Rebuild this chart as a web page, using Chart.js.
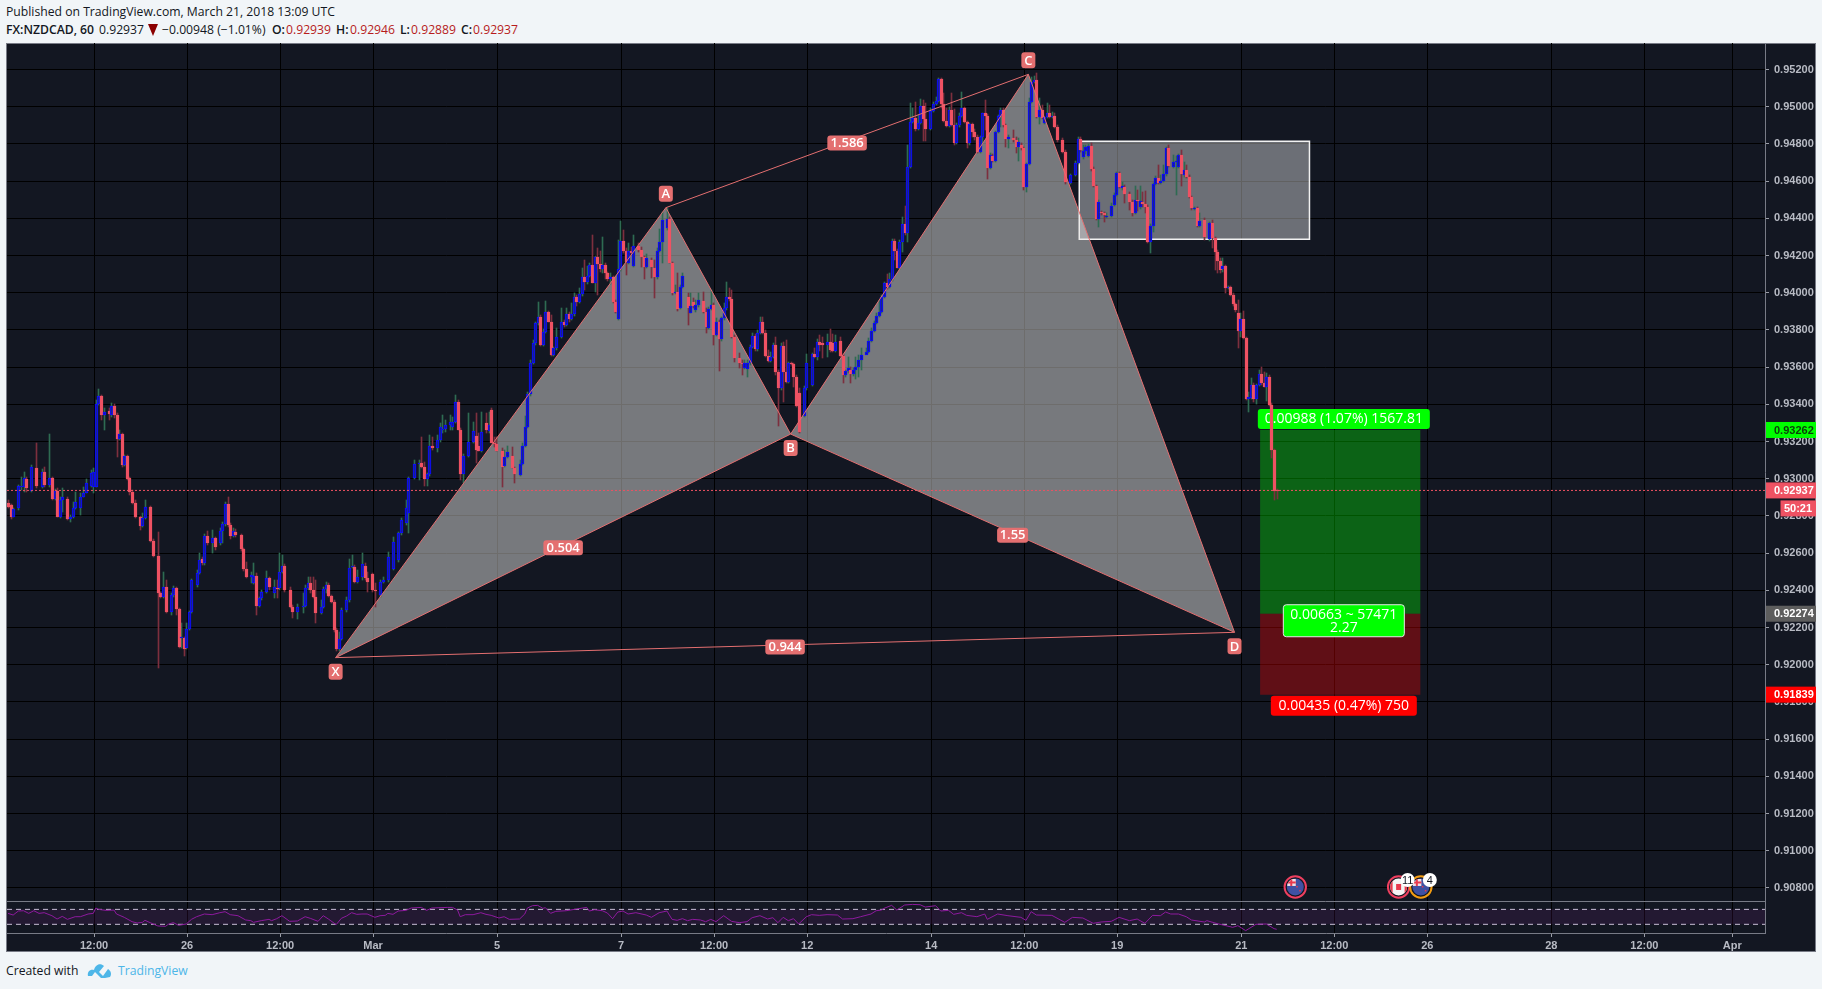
<!DOCTYPE html>
<html>
<head>
<meta charset="utf-8">
<title>FX:NZDCAD, 60</title>
<script src="https://cdn.jsdelivr.net/npm/chart.js@4"></script>
<style>
    html, body { margin: 0; padding: 0; background: #f1f5f8; overflow: hidden; }
    body { width: 1822px; height: 989px; position: relative; font-family: 'Open Sans', sans-serif; font-size: 12.2px; color: #131722; }
    .txt { position: absolute; white-space: nowrap; line-height: 18px; height: 18px; }
    .bold { font-weight: 600; }
    .red { color: #b71c1c; }
    #frame { position: absolute; left: 6px; top: 43px; width: 1810px; height: 909px; box-sizing: border-box; background: #131722; border: 1px solid #787b86; }
    canvas { position: absolute; left: 0; }
    #mainChart { top: 0; }
    #rsiChart { top: 901px; }
    #tri { position: absolute; left: 148px; top: 24px; width: 0; height: 0; border-left: 5.5px solid transparent; border-right: 5.5px solid transparent; border-top: 12px solid #8b0000; }
</style>
</head>
<body>
<div class="txt" style="left:6px;top:3px">Published on TradingView.com, March 21, 2018 13:09 UTC</div>
<div class="txt bold" style="left:6px;top:21px">FX:NZDCAD, 60</div>
<div class="txt" style="left:99px;top:21px">0.92937</div>
<div id="tri"></div>
<div class="txt" style="left:162px;top:21px">−0.00948 (−1.01%)</div>
<div class="txt bold" style="left:272px;top:21px">O:</div>
<div class="txt red" style="left:286px;top:21px">0.92939</div>
<div class="txt bold" style="left:336px;top:21px">H:</div>
<div class="txt red" style="left:350px;top:21px">0.92946</div>
<div class="txt bold" style="left:400px;top:21px">L:</div>
<div class="txt red" style="left:411px;top:21px">0.92889</div>
<div class="txt bold" style="left:461px;top:21px">C:</div>
<div class="txt red" style="left:473px;top:21px">0.92937</div>
<div id="frame"></div>
<canvas id="mainChart" width="1816" height="901"></canvas>
<canvas id="rsiChart" width="1816" height="52"></canvas>
<div class="txt" style="left:6px;top:962px">Created with</div>
<svg style="position:absolute;left:87px;top:961px" width="25" height="18" viewBox="0 0 25 18">
    <path d="M1 15 C0 11 3 8 7 9 C8 4 13 1 17 5 L12 11 L16 15 L21 8 C24 10 25 13 23 16 L18 17 L14 17 L8 11 L5 15 Z" fill="#4db6e8"/>
</svg>
<div class="txt" style="left:118px;top:962px;color:#4db6e8">TradingView</div>
<script>
// hour of each traced candle, counted from the left edge of the chart
const barHours = [
    0,1,2,4,5,6,7,9,11,13, 14,16,17,18,19,20,21,23,24,25, 26,28,29,30,32,33,34,35,36,37, 39,40,41,42,43,44,45,46,47,48,
    49,51,52,53,55,56,58,59,60,61, 63,64,65,66,67,68,69,70,71,73, 74,75,76,77,79,80,82,83,84,85, 86,87,88,90,91,92,94,95,96,97,
    98,100,101,103,104,105,106,107,109,110, 112,114,115,116,117,118,119,121,122,123, 124,125,126,127,128,129,131,132,133,134,
    135,137,138,139,141,142,144,145,147,149, 151,152,154,155,157,159,160,161,162,163, 164,166,167,168,169,171,172,173,174,175,
    176,178,180,181,182,183,185,186,187,188, 189,191,192,193,195,196,198,199,200,201, 202,203,204,205,206,207,208,209,210,211,
    212,214,215,216,217,218,219,220,221,222, 223,224,225,226,227,228,229,230,231,232, 233,234,235,236,237,238,239,240,241,242,
    244,245,246,247,249,250,251,252,253,255, 256,257,258,259,260,261,263,264,265,266, 267,269,270,271,272,273,274,275,276,277,
    278,279,280,281,283,284,285,286,287,288, 289,290,291,292,293,294,295,296,297,298, 299,300,301,302,303,304,305,306,308,309,
    311,312,313,314,315,317,318,319,320,322, 323,324,325,326,327,328,329,330,332,333, 334,335,336,337,338,339,340,341,342,343,
    344,345,346,347,348,349,350,351,352,353, 354,355,357,358,359,360,361,362,363,364, 365,366,367,368,369,370,371,372,373,374,
    375,376,377,378,379,380,381,382,383,384, 385,386,387,389,390,391,392,393,394,395, 396,397,398,399,400,401,402,403,404,405,
    406,408,409,411,413,414,415,416,417,418, 419,420,421,422,423,424,425,427,428,429, 430,431,432,434,435,436,437,438,439,440,
    441,442,443,444,445,446,447,448,449,451, 452,453,454,455,456,457,458,459,460,461, 463,465,466,467,468,469,470,471,472,473,
    474,475,476,477,478,479,480,481,482,483, 484,485,486,487,488,489,490,491];

// prices in points (0.00001)
const opens = [
    92872,92857,92796,92841,92954,92954,92999,92936,93056,92954, 93038,92967,93002,92893,92936,92793,92886,92890,92782,92796,
    92845,92841,92904,92925,92961,92958,92958,93402,93445,93343, 93366,93343,93393,93343,93212,93239,93074,93121,93002,92931,
    92872,92793,92748,92787,92846,92667,92587,92384,92363,92420, 92286,92375,92411,92298,92142,92142,92089,92191,92282,92429,
    92495,92569,92545,92694,92653,92680,92653,92721,92755,92864, 92751,92694,92716,92698,92621,92513,92474,92441,92479,92318,
    92357,92393,92465,92384,92411,92411,92497,92531,92402,92312, 92282,92312,92316,92411,92438,92402,92366,92277,92312,92406,
    92429,92370,92339,92187,92083,92137,92295,92348,92527,92527, 92447,92474,92531,92465,92486,92402,92375,92447,92456,92517,
    92563,92707,92760,92814,93002,93078,93087,93065,92997,93024, 93176,93164,93208,93262,93268,93289,93280,93307,93411,93262,
    93026,93122,93199,93230,93176,93151,93302,93259,93370,93191, 93187,93151,93069,93115,93122,93056,93020,93078,93176,93277,
    93454,93624,93728,93835,93868,93719,93791,93895,93841,93665, 93701,93764,93844,93826,93884,93857,93884,93975,93952,93991,
    94083,94059,94092,94149,94054,94190,94154,94126,94149,94104, 94072,94083,93948,93857,94126,94280,94224,94162,94224,94145,
    94251,94230,94190,94140,94176,94131,94083,94226,94271,94346, 94395,94158,93997,94006,93916,94033,93979,93893,93952,93907,
    93932,93957,93898,93812,93911,93932,93773,93841,93749,93862, 93916,93979,93964,93764,93651,93624,93597,93588,93620,93710,
    93767,93696,93785,93844,93785,93662,93635,93656,93719,93576, 93486,93715,93576,93522,93620,93617,93549,93459,93337,93486,
    93504,93671,93656,93737,93728,93719,93737,93728,93689,93740, 93662,93558,93579,93585,93561,93585,93599,93637,93665,93683,
    93742,93796,93839,93875,93898,93975,94054,94029,94072,94278, 94226,94131,94271,94369,94319,94674,94920,94941,94879,94911,
    95004,94932,94880,94979,95015,95033,95147,95013,94925,94896, 94982,94902,94803,94900,94950,94991,94920,94803,94907,94866,
    94835,94758,94835,94965,94952,94669,94735,94710,94862,94950, 94982,94902,94825,94830,94821,94785,94794,94776,94567,94690,
    95024,95135,95144,94943,94982,94914,94943,94965,94947,94950, 94893,94821,94758,94592,94633,94699,94825,94728,94762,94735,
    94789,94663,94574,94396,94432,94427,94409,94414,94472,94526, 94642,94561,94570,94531,94490,94431,94499,94459,94490,94477,
    94463,94275,94361,94583,94615,94588,94601,94637,94776,94678, 94703,94678,94739,94633,94660,94624,94513,94454,94454,94361,
    94391,94287,94373,94293,94221,94172,94126,94144,94024,94029, 93988,93938,93890,93796,93857,93755,93427,93433,93504,93427,
    93504,93563,93513,93495,93546,93397,93155,92939];

const closes = [
    92850,92796,92837,92961,92961,93006,92949,93062,92961,93038, 92967,93002,92893,92936,92793,92886,92904,92782,92796,92845,
    92877,92904,92925,92975,93033,93038,93402,93445,93343,93361, 93346,93393,93343,93212,93239,93074,93121,92999,92931,92872,
    92793,92748,92787,92846,92667,92587,92384,92363,92420,92286, 92375,92411,92298,92094,92147,92087,92191,92282,92454,92495,
    92563,92545,92694,92653,92680,92635,92721,92755,92864,92751, 92694,92719,92698,92621,92513,92474,92481,92479,92318,92357,
    92393,92465,92420,92416,92407,92497,92531,92402,92312,92282, 92312,92316,92411,92438,92402,92366,92277,92312,92406,92429,
    92370,92339,92187,92083,92137,92295,92348,92522,92531,92447, 92474,92540,92465,92447,92402,92398,92447,92456,92581,92662,
    92707,92778,92841,93002,93078,93087,93065,92997,93024,93176, 93164,93208,93277,93268,93289,93307,93307,93411,93262,93026,
    93122,93199,93259,93155,93151,93253,93262,93289,93191,93187, 93151,93062,93115,93146,93056,93026,93078,93176,93277,93456,
    93624,93728,93835,93868,93719,93791,93898,93841,93665,93701, 93764,93844,93826,93884,93857,93884,93975,93952,93991,94083,
    94059,94092,94149,94054,94190,94154,94126,94149,94104,94072, 94083,93948,93898,94126,94280,94224,94167,94224,94215,94251,
    94230,94190,94140,94185,94137,94083,94226,94271,94391,94395, 94158,93997,94006,93911,94033,94090,93916,93929,93929,93932,
    93961,93898,93818,93911,93932,93773,93841,93749,93862,93916, 93979,93964,93764,93651,93624,93617,93620,93620,93710,93767,
    93696,93785,93844,93785,93662,93635,93656,93719,93576,93486, 93715,93576,93522,93620,93617,93549,93393,93253,93486,93620,
    93671,93656,93737,93719,93719,93737,93692,93689,93733,93662, 93558,93579,93594,93561,93585,93599,93637,93665,93683,93742,
    93796,93839,93875,93898,93975,94054,94029,94072,94278,94226, 94131,94271,94369,94319,94674,94920,94941,94879,94911,95004,
    94932,94880,94979,95015,95033,95147,95013,94925,94896,94982, 94902,94803,94900,94950,94991,94920,94803,94907,94866,94835,
    94758,94835,94965,94952,94669,94739,94710,94862,94950,94982, 94902,94825,94836,94821,94785,94810,94776,94567,94690,95024,
    95135,95144,94943,94982,94938,94943,94965,94947,94950,94893, 94821,94758,94597,94633,94699,94825,94767,94762,94785,94789,
    94663,94574,94396,94490,94427,94418,94414,94468,94526,94642, 94570,94574,94531,94490,94427,94499,94495,94495,94477,94463,
    94275,94361,94583,94615,94588,94601,94637,94776,94681,94705, 94706,94739,94638,94660,94624,94513,94454,94457,94361,94388,
    94302,94373,94293,94221,94172,94122,94144,94024,94029,93988, 93938,93907,93796,93857,93755,93427,93438,93504,93427,93504,
    93563,93513,93495,93546,93397,93155,92934,92937];

const highs = [
    92886,92864,92841,92966,93011,93038,93011,93074,93191,93051, 93062,93241,93011,92945,92949,92904,92949,92900,92805,92877,
    92931,92925,92958,92997,93047,93056,93424,93481,93450,93379, 93379,93406,93402,93352,93262,93244,93128,93128,93008,92940,
    92886,92800,92814,92886,92854,92674,92716,92391,92501,92456, 92384,92424,92420,92303,92223,92151,92223,92289,92459,92510,
    92599,92581,92703,92721,92725,92689,92734,92769,92877,92904, 92760,92734,92728,92703,92626,92554,92501,92549,92491,92366,
    92402,92506,92474,92456,92456,92603,92590,92542,92420,92321, 92327,92384,92429,92470,92474,92474,92456,92348,92420,92447,
    92438,92375,92348,92196,92178,92303,92366,92567,92590,92536, 92510,92599,92545,92501,92492,92438,92456,92474,92608,92689,
    92716,92787,92886,93011,93101,93101,93223,93092,93033,93235, 93226,93235,93302,93343,93316,93343,93334,93450,93424,93271,
    93133,93352,93307,93352,93244,93361,93352,93361,93379,93226, 93226,93164,93155,93176,93173,93062,93101,93191,93338,93468,
    93638,93746,93844,93952,93880,93803,93955,93902,93880,93710, 93808,93916,93853,93916,93898,93943,93997,93988,94024,94131,
    94176,94144,94158,94310,94197,94239,94226,94301,94158,94111, 94104,94090,93961,94283,94387,94337,94239,94265,94248,94310,
    94265,94248,94197,94208,94185,94176,94239,94341,94436,94454, 94409,94167,94042,94108,94042,94104,94000,93997,93970,93961,
    94000,94006,93916,93925,94015,93943,93862,93853,93871,93943, 94059,94024,94015,93773,93674,93638,93638,93638,93719,93785,
    93778,93800,93868,93868,93800,93692,93683,93728,93764,93585, 93728,93737,93746,93629,93628,93624,93558,93486,93498,93671,
    93678,93701,93749,93773,93764,93778,93803,93778,93773,93764, 93671,93585,93656,93599,93594,93656,93665,93701,93701,93755,
    93808,93850,93889,93961,93988,94059,94101,94104,94287,94287, 94233,94283,94409,94466,94794,95018,94991,95027,94955,95040,
    95036,95018,94991,95027,95054,95153,95153,95072,94991,94997, 95072,94986,94911,94964,95081,94997,94925,94914,94914,94879,
    94848,94843,94968,95036,94961,94749,94746,94871,94955,94991, 94991,94907,94848,94875,94835,94830,94803,94785,94699,95045,
    95162,95165,95180,95045,95009,94947,95018,95009,94973,94965, 94902,94830,94767,94638,94710,94836,94839,94794,94794,94800,
    94803,94674,94579,94499,94441,94436,94427,94481,94535,94651, 94649,94597,94579,94543,94499,94574,94552,94574,94543,94549,
    94472,94370,94592,94628,94687,94633,94687,94785,94794,94740, 94735,94746,94767,94705,94687,94633,94520,94463,94463,94430,
    94400,94382,94391,94302,94230,94185,94185,94149,94036,94036, 93997,93947,93961,93890,93899,93761,93468,93540,93513,93510,
    93585,93599,93576,93567,93558,93406,93158,92946];

const lows = [
    92841,92786,92793,92832,92940,92931,92931,92931,92949,92949, 92958,92958,92886,92886,92793,92787,92823,92778,92769,92787,
    92836,92805,92900,92922,92958,92922,92954,93397,93316,93262, 93316,93334,93325,93119,93208,93065,93069,92993,92913,92864,
    92787,92725,92743,92782,92662,92581,91981,92357,92357,92277, 92268,92366,92268,92089,92089,92049,92083,92187,92277,92420,
    92488,92535,92537,92644,92599,92617,92644,92653,92746,92743, 92675,92685,92689,92613,92506,92468,92438,92434,92268,92312,
    92348,92384,92402,92357,92357,92402,92492,92393,92303,92250, 92244,92277,92309,92402,92384,92357,92226,92271,92303,92384,
    92366,92334,92178,92076,92071,92133,92286,92339,92518,92438, 92438,92456,92456,92393,92393,92312,92366,92438,92447,92510,
    92554,92698,92751,92707,92997,92993,93056,92961,92961,93015, 93155,93146,93199,93244,93253,93262,93262,93298,93262,92993,
    92976,93115,93190,93087,93151,93146,93244,93244,93191,93173, 93151,92954,93062,93110,93056,92976,93015,93072,93173,93271,
    93445,93617,93719,93826,93715,93715,93785,93841,93660,93660, 93692,93755,93818,93821,93844,93853,93875,93929,93947,93982,
    94015,94047,94086,94051,94006,93988,94113,94104,94072,94065, 94047,93943,93893,93853,94119,94215,94095,94154,94205,94140,
    94221,94140,94076,94131,94077,93970,94076,94221,94162,94337, 94158,93988,93993,93903,93911,94024,93826,93889,93918,93898,
    93925,93893,93785,93805,93907,93719,93767,93581,93742,93853, 93907,93957,93755,93629,93594,93558,93588,93549,93611,93701,
    93688,93688,93778,93778,93656,93628,93629,93647,93558,93284, 93477,93414,93513,93513,93610,93495,93387,93244,93330,93477,
    93499,93647,93638,93689,93647,93656,93683,93681,93683,93656, 93513,93549,93567,93516,93552,93534,93545,93585,93674,93678,
    93737,93791,93832,93868,93893,93970,94018,94024,94065,94176, 94131,94126,94221,94310,94275,94669,94911,94871,94875,94907,
    94817,94817,94875,94973,95009,95027,94991,94920,94889,94889, 94896,94794,94798,94893,94947,94914,94776,94794,94839,94821,
    94749,94749,94803,94875,94610,94663,94705,94705,94857,94889, 94889,94782,94776,94812,94749,94710,94767,94552,94543,94687,
    95018,95126,94938,94907,94932,94907,94938,94938,94940,94884, 94812,94753,94585,94585,94628,94692,94758,94717,94746,94728,
    94656,94567,94391,94355,94418,94382,94400,94409,94466,94520, 94561,94552,94481,94445,94414,94423,94441,94448,94463,94427,
    94269,94215,94328,94577,94583,94585,94597,94628,94674,94669, 94525,94669,94574,94624,94615,94508,94445,94445,94355,94355,
    94284,94280,94239,94122,94104,94108,94113,93997,94018,93983, 93929,93898,93701,93764,93750,93424,93361,93427,93415,93402,
    93499,93504,93492,93420,93391,93110,92886,92889];

// RSI readings, sampled at the turning points of the line
const rsiHours = [
    0,2,4,6,8,10,12,14,17,19,21,23,26,28,31,33,34,35,38,41,42,45,48,50,52,53,55,58,61,62,64,66,69,71,73,76,79,82,84,86,89,92,94,95,98,101,102,104,106,109,
    112,115,117,120,122,124,127,129,131,133,135,137,139,142,144,146,147,149,151,154,156,160,162,164,170,172,174,175,177,180,183,185,187,190,192,194,198,200,201,203,
    205,207,208,210,212,216,220,224,225,227,230,232,234,236,238,240,243,247,249,252,255,257,259,261,263,265,268,270,272,274,277,280,283,286,288,291,294,296,298,300,
    302,304,306,309,311,314,317,321,323,327,330,334,336,338,339,342,344,347,350,353,355,359,361,364,366,369,371,375,378,379,383,387,392,394,396,398,404,409,412,416,
    420,423,427,430,434,437,440,443,446,448,450,453,456,458,463,464,468,474,476,479,483,487,490,491];
const rsiValues = [
    59.3,54.9,65.6,66.4,59.3,66.4,59.3,61.1,53.1,44.2,51.3,43.3,50.4,50.4,57.6,59.3,73.6,70,67.3,68.2,57.6,48.7,37.1,33.6,35.3,40.7,34.5,25.6,24.7,30,34.5,27.3,30.9,43.3,50.4,57.6,55.8,61.1,63.8,55.8,53.1,41.6,39.8,35.3,39.8,43.3,39.8,45.1,53.1,38,
    38.9,50.4,46,38,53.1,44.2,29.1,46,52.2,61.1,56.7,57.6,57.6,48.7,53.1,54,59.3,56.7,65.6,67.3,73.6,75.3,67.3,73.6,75.3,75.3,68.2,50.4,55.8,55.8,61.1,56.7,54,46.9,50.4,43.3,44.2,57.6,73.6,79.8,
    80.7,72.7,74.4,59.3,64.7,66.4,70.9,75.3,65.6,69.1,66.4,60.2,45.1,62.9,65.6,57.6,61.1,54.9,48.7,61.1,65.6,43.3,40.7,45.1,39.8,43.3,41.6,37.1,43.3,37.1,53.1,38,34.5,37.1,47.8,53.1,44.2,47.8,34.5,48.7,
    39.8,45.1,30.9,50.4,55.8,54,55.8,54.9,44.2,45.1,50.4,57.6,66.4,68.2,72.7,80.7,68.2,81.6,83.3,82.4,76.2,79.8,65.6,67.3,56.7,61.1,54,50.4,57.6,43.3,57.6,53.1,48.7,40.7,63.8,54.9,54,35.3,48.7,46.9,
    32.7,36.2,38,48.7,39.8,44.2,32.7,54,53.1,62.9,57.6,57.6,50.4,41.6,36.2,39.8,31.8,22,26.4,13.1,30,30.9,18.4,16.7];
const rsiUpper = 70;
const rsiLower = 30;

// X, A, B, C, D
const patternNames = ['X', 'A', 'B', 'C', 'D'];
const patternHours = [126.8, 254.6, 302.9, 394.9, 474.7];
const patternPrices = [92038, 94457, 93240, 95174, 92174];
const ratioLabels = ['1.586', '0.504', '1.55', '0.944'];

const boxHours = [414.6, 503.7];
const boxPrices = [94814, 94287];

const positionHours = [484.6, 546.6];
const targetPrice = 93262;
const entryPrice = 92274;
const stopPrice = 91839;
const lastPrice = 92937;

const eventHours = [498.2, 538.2, 546.8];
const eventPrice = 90805;

const priceTicks = [90800,91000,91200,91400,91600,91800,92000,92200,92400,92600,92800,93000,93200,93400,93600,93800,94000,94200,94400,94600,94800,95000,95200];
const timeHours = [33.3,69.3,105.3,141.3,189.3,237.3,273.3,309.3,357.3,393.3,429.3,477.3,513.3,549.3,597.3,633.3,667.3];
const timeLabels = ['12:00','26','12:00','Mar','5','7','12:00','12','14','12:00','19','21','12:00','26','28','12:00','Apr'];

const hourMin = -0.39;
const hourMax = 680;
const axisFont = 'Liberation Sans';
const salmon = '#e46f70';

const price = (p) => p / 100000;
const pt = (h, p) => ({ x: h, y: price(p) });

function polygon(points, color, extra) {
    return Object.assign({
        type: 'line',
        data: points,
        fill: 'shape',
        backgroundColor: color,
        borderWidth: 0,
        pointRadius: 0,
        tension: 0,
        order: 10
    }, extra);
}

function segment(a, b) {
    return {
        type: 'line',
        data: [a, b],
        borderColor: salmon,
        borderWidth: 1,
        pointRadius: 0,
        fill: false,
        order: 2
    };
}

const patternPts = patternHours.map((h, i) => pt(h, patternPrices[i]));
const [pX, pA, pB, pC, pD] = patternPts;

function badge(ctx, text, cx, cy, w, h, bg, font, color) {
    ctx.save();
    ctx.fillStyle = bg;
    ctx.beginPath();
    ctx.roundRect(cx - w / 2, cy - h / 2, w, h, 3);
    ctx.fill();
    ctx.font = font;
    ctx.fillStyle = color || '#fff';
    ctx.textAlign = 'center';
    ctx.textBaseline = 'middle';
    ctx.fillText(text, cx, cy + 0.5);
    ctx.restore();
}

// trading labels sit under the candles, so they are drawn right after the last position fill
const positionLabels = {
    id: 'positionLabels',
    afterDatasetDraw(chart, args) {
        if (chart.data.datasets[args.index].label !== 'loss') return;
        const { ctx, scales: { x, y } } = chart;
        const cx = (x.getPixelForValue(positionHours[0]) + x.getPixelForValue(positionHours[1])) / 2 + 3.6;
        const font = "14px 'Open Sans'";
        badge(ctx, '0.00988 (1.07%) 1567.81', cx, y.getPixelForValue(price(targetPrice)) - 11, 172, 20, '#00ff00', font);
        badge(ctx, '0.00435 (0.47%) 750', cx, y.getPixelForValue(price(stopPrice)) + 11, 146, 20, '#ff0000', font);
        const my = y.getPixelForValue(price(entryPrice)) + 7;
        ctx.save();
        ctx.fillStyle = '#00ff00';
        ctx.strokeStyle = '#e8e8e8';
        ctx.beginPath();
        ctx.roundRect(cx - 60.5, my - 16, 121, 32, 3);
        ctx.fill();
        ctx.stroke();
        ctx.font = font;
        ctx.fillStyle = '#fff';
        ctx.textAlign = 'center';
        ctx.textBaseline = 'middle';
        ctx.fillText('0.00663 ~ 57471', cx, my - 6);
        ctx.fillText('2.27', cx, my + 7);
        ctx.restore();
    }
};

function drawFlag(ctx, cx, cy, kind, ring) {
    ctx.save();
    ctx.fillStyle = '#131722';
    ctx.beginPath();
    ctx.arc(cx, cy, 10.7, 0, Math.PI * 2);
    ctx.fill();
    ctx.beginPath();
    ctx.arc(cx, cy, 8.5, 0, Math.PI * 2);
    ctx.clip();
    if (kind === 'CA') {
        ctx.fillStyle = '#f4f4f4';
        ctx.fillRect(cx - 9, cy - 9, 18, 18);
        ctx.fillStyle = '#e8394d';
        ctx.fillRect(cx - 2.5, cy - 3, 5, 6);
        ctx.fillRect(cx - 9, cy - 9, 3, 18);
        ctx.fillRect(cx + 6, cy - 9, 3, 18);
    } else {
        ctx.fillStyle = '#3f51a3';
        ctx.fillRect(cx - 9, cy - 9, 18, 18);
        ctx.fillStyle = '#f0dfe4';
        ctx.fillRect(cx - 8, cy - 8, 8.5, 7);
        ctx.fillStyle = '#e8394d';
        ctx.fillRect(cx - 5, cy - 8, 2, 7);
        ctx.fillRect(cx - 8, cy - 5.5, 8.5, 2);
        ctx.fillRect(cx + 4, cy + 3, 1.5, 1.5);
        ctx.fillRect(cx + 1, cy - 1, 1.5, 1.5);
    }
    ctx.restore();
    ctx.strokeStyle = ring;
    ctx.lineWidth = 2;
    ctx.beginPath();
    ctx.arc(cx, cy, 10.7, 0, Math.PI * 2);
    ctx.stroke();
}

const annotations = {
    id: 'annotations',
    afterDraw(chart) {
        const { ctx, scales: { x, y }, chartArea } = chart;
        const px = (p) => x.getPixelForValue(p.x);
        const py = (p) => y.getPixelForValue(p.y);

        // point letters
        const letterFont = "600 13px 'Open Sans'";
        const side = [14, -14, 14, -14, 14];
        patternPts.forEach((p, i) => badge(ctx, patternNames[i], px(p), py(p) + side[i], 14, 16, salmon, letterFont));

        // ratios at the middle of their legs
        const legs = [[pA, pC], [pX, pB], [pB, pD], [pX, pD]];
        legs.forEach(([a, b], i) => {
            const w = ratioLabels[i].length > 4 ? 39.5 : 31;
            badge(ctx, ratioLabels[i], (px(a) + px(b)) / 2, (py(a) + py(b)) / 2 + 2, w, 15, salmon, letterFont);
        });

        // calendar events
        const ey = y.getPixelForValue(price(eventPrice));
        const ex = eventHours.map(h => x.getPixelForValue(h));
        drawFlag(ctx, ex[0], ey, 'NZ', '#ef3f5f');
        drawFlag(ctx, ex[1], ey, 'CA', '#ef3f5f');
        drawFlag(ctx, ex[2], ey, 'NZ', '#f39c12');
        [[ex[1], '11'], [ex[2], '4']].forEach(([cx, t]) => {
            ctx.save();
            ctx.fillStyle = '#fff';
            ctx.beginPath();
            ctx.arc(cx + 9, ey - 7, 7, 0, Math.PI * 2);
            ctx.fill();
            ctx.fillStyle = '#131722';
            ctx.font = "11px 'Liberation Sans'";
            ctx.textAlign = 'center';
            ctx.textBaseline = 'middle';
            ctx.fillText(t, cx + 9, ey - 6.5);
            ctx.restore();
        });

        // price tags on the axis
        const tagFont = "bold 11px 'Liberation Sans'";
        const tag = (value, bg, color) => {
            const ty = y.getPixelForValue(price(value));
            ctx.fillStyle = bg;
            ctx.fillRect(chartArea.right + 1, ty - 8, 50, 16);
            ctx.fillStyle = color;
            ctx.font = tagFont;
            ctx.textAlign = 'left';
            ctx.textBaseline = 'middle';
            ctx.fillText((value / 100000).toFixed(5), chartArea.right + 9, ty + 0.5);
        };
        tag(targetPrice, '#00ff00', '#0b3d0b');
        tag(lastPrice, '#ef5263', '#fff');
        tag(entryPrice, '#5d5d5d', '#fff');
        tag(stopPrice, '#ff0000', '#fff');
        const cy = y.getPixelForValue(price(lastPrice)) + 18;
        ctx.fillStyle = '#ef5263';
        ctx.fillRect(chartArea.right + 15.5, cy - 8, 35.5, 16);
        ctx.fillStyle = '#fff';
        ctx.textAlign = 'center';
        ctx.fillText('50:21', chartArea.right + 33, cy + 0.5);
    }
};

// keep candles on whole pixels so they stay as crisp as in the original
const snapBars = {
    id: 'snapBars',
    afterDatasetsUpdate(chart) {
        chart.getSortedVisibleDatasetMetas().forEach(meta => {
            if (meta.type !== 'bar') return;
            meta.data.forEach(el => {
                el.x = Math.round(el.x) + 0.5;
                let top = Math.round(Math.min(el.y, el.base));
                let bottom = Math.round(Math.max(el.y, el.base));
                if (bottom - top < 1) bottom = top + 1;
                el.y = top;
                el.base = bottom;
            });
        });
    }
};

const timeScale = {
    type: 'linear',
    min: hourMin,
    max: hourMax,
    offset: false,
    afterBuildTicks: (scale) => { scale.ticks = timeHours.map(v => ({ value: v })); }
};

new Chart(document.getElementById('mainChart'), {
    type: 'bar',
    plugins: [snapBars, positionLabels, annotations],
    data: {
        datasets: [
            polygon([pX, pA, pB, pX], 'rgba(230,228,225,0.48)'),
            polygon([pB, pC, pD, pB], 'rgba(230,228,225,0.48)'),
            polygon([
                pt(boxHours[0], boxPrices[0]), pt(boxHours[1], boxPrices[0]),
                pt(boxHours[1], boxPrices[1]), pt(boxHours[0], boxPrices[1]), pt(boxHours[0], boxPrices[0])
            ], 'rgba(255,255,255,0.38)', { borderColor: '#f2f2f2', borderWidth: 1.5 }),
            polygon([
                pt(positionHours[0], targetPrice), pt(positionHours[1], targetPrice),
                pt(positionHours[1], entryPrice), pt(positionHours[0], entryPrice), pt(positionHours[0], targetPrice)
            ], 'rgba(0,255,0,0.33)', { order: 9.5 }),
            polygon([
                pt(positionHours[0], entryPrice), pt(positionHours[1], entryPrice),
                pt(positionHours[1], stopPrice), pt(positionHours[0], stopPrice), pt(positionHours[0], entryPrice)
            ], 'rgba(255,0,0,0.33)', { label: 'loss', order: 9 }),
            {
                // wicks
                data: barHours.map((h, i) => ({ x: h, y: [price(lows[i]), price(highs[i])] })),
                backgroundColor: barHours.map((h, i) => closes[i] >= opens[i] ? '#2e6b52' : '#7d2f3e'),
                barThickness: 1,
                grouped: false,
                order: 8
            },
            {
                // bodies: hollow blue when up, solid red when down
                data: barHours.map((h, i) => ({ x: h, y: [price(opens[i]), price(closes[i])] })),
                backgroundColor: barHours.map((h, i) => closes[i] >= opens[i] ? 'rgba(19,23,34,0.35)' : '#ef5263'),
                borderColor: barHours.map((h, i) => closes[i] >= opens[i] ? '#0d0dff' : '#ef5263'),
                borderWidth: 1,
                borderSkipped: false,
                barThickness: 3,
                grouped: false,
                order: 7
            },
            {
                type: 'line',
                data: [pt(hourMin, lastPrice), pt(hourMax, lastPrice)],
                borderColor: '#ef5263',
                borderWidth: 1,
                borderDash: [2, 2],
                pointRadius: 0,
                order: 6
            },
            segment(pX, pA), segment(pA, pB), segment(pB, pC), segment(pC, pD),
            segment(pX, pB), segment(pB, pD), segment(pX, pD), segment(pA, pC)
        ]
    },
    options: {
        responsive: false,
        animation: false,
        layout: { padding: { left: 7, top: 43, right: 0, bottom: 0 } },
        plugins: { legend: { display: false }, tooltip: { enabled: false } },
        scales: {
            x: Object.assign({}, timeScale, {
                afterFit: (s) => { s.height = 0; },
                grid: { color: '#000', drawTicks: false, offset: false },
                border: { display: false },
                ticks: { display: false }
            }),
            y: {
                position: 'right',
                min: 0.907296,
                max: 0.953425,
                // no room for half a label under the lowest tick, the pane runs down to the RSI
                afterFit: (s) => { s.width = 51; s.paddingBottom = 0; s.paddingTop = 0; },
                afterBuildTicks: (s) => { s.ticks = priceTicks.map(v => ({ value: price(v) })); },
                grid: { color: '#000', tickColor: '#9a9da6', tickLength: 4 },
                border: { color: '#787b86' },
                ticks: {
                    color: '#b8bbc4',
                    padding: 5,
                    font: { family: axisFont, size: 11, weight: 'bold' },
                    callback: (v) => v.toFixed(5)
                }
            }
        }
    }
});

const rsiMin = 6.8;
const rsiMax = 92.4;

new Chart(document.getElementById('rsiChart'), {
    type: 'line',
    data: {
        datasets: [
            {
                data: rsiHours.map((h, i) => ({ x: h, y: rsiValues[i] })),
                borderColor: '#8e1a9e',
                borderWidth: 1,
                pointRadius: 0,
                order: 1
            },
            {
                data: [{ x: hourMin, y: rsiUpper }, { x: hourMax, y: rsiUpper }],
                borderColor: '#c9bfd6',
                borderWidth: 1,
                borderDash: [5, 4],
                pointRadius: 0,
                fill: { value: rsiLower },
                backgroundColor: 'rgba(155,39,176,0.12)',
                order: 3
            },
            {
                data: [{ x: hourMin, y: rsiLower }, { x: hourMax, y: rsiLower }],
                borderColor: '#c9bfd6',
                borderWidth: 1,
                borderDash: [5, 4],
                pointRadius: 0,
                order: 2
            }
        ]
    },
    options: {
        responsive: false,
        animation: false,
        layout: { padding: { left: 7, top: 0, right: 0, bottom: 0 } },
        plugins: { legend: { display: false }, tooltip: { enabled: false } },
        scales: {
            x: Object.assign({}, timeScale, {
                afterFit: (s) => { s.height = 20; },
                grid: { color: '#000', tickColor: '#9a9da6', tickLength: 4 },
                border: { color: '#787b86' },
                ticks: {
                    autoSkip: false,
                    maxRotation: 0,
                    color: '#b8bbc4',
                    padding: 2,
                    font: { family: axisFont, size: 11, weight: 'bold' },
                    callback: (v, i) => timeLabels[i]
                }
            }),
            y: {
                position: 'right',
                min: rsiMin,
                max: rsiMax,
                afterFit: (s) => { s.width = 51; },
                afterBuildTicks: (s) => { s.ticks = [{ value: rsiMax }]; },
                grid: { color: '#787b86', drawTicks: false },
                border: { color: '#787b86' },
                ticks: { display: false }
            }
        }
    }
});
</script>
</body>
</html>
